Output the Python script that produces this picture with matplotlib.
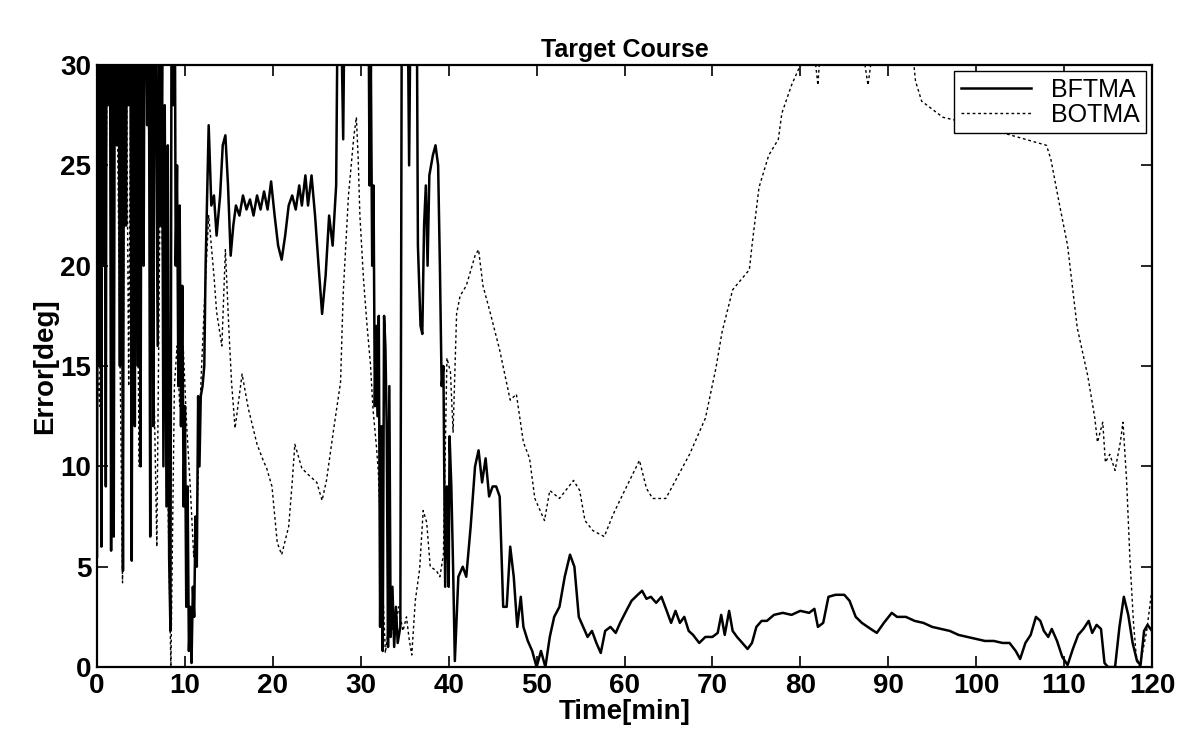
#!/usr/bin/env python3
import matplotlib
matplotlib.use("Agg")
from matplotlib import pyplot as plt

# BFTMA (solid) course error; values above 30 are clipped by the axes
bftma_t = [
    0.0, 0.1, 0.25, 0.35, 0.5, 0.6, 0.75, 0.85, 1.0, 1.1, 1.3, 1.45, 1.6, 1.75,
    1.9, 2.05, 2.25, 2.4, 2.6, 2.75, 2.95, 3.1, 3.3, 3.45, 3.6, 3.75, 3.95, 4.1,
    4.3, 4.45, 4.65, 4.8, 4.95, 5.1, 5.3, 5.45, 5.7, 5.85, 6.05, 6.2, 6.4, 6.55,
    6.75, 6.9, 7.05, 7.25, 7.4, 7.55, 7.7, 7.9, 8.05, 8.2, 8.35, 8.5, 8.65, 8.8,
    8.95, 9.1, 9.25, 9.4, 9.55, 9.7, 9.85, 10.0, 10.15, 10.3, 10.45, 10.6,
    10.75, 10.9, 11.05, 11.2, 11.35, 11.5, 11.65, 11.8, 12.0, 12.2, 12.35,
    12.5, 12.7, 13.0, 13.3, 13.6, 14.0, 14.3, 14.6, 14.9, 15.2, 15.5, 15.8,
    16.2, 16.6, 17.0, 17.4, 17.8, 18.2, 18.6, 19.0, 19.4, 19.8, 20.2, 20.6,
    21.0, 21.4, 21.8, 22.2, 22.6, 23.0, 23.3, 23.7, 24.0, 24.4, 24.8, 25.2,
    25.6, 26.0, 26.4, 26.8, 27.2, 27.5, 28.0, 28.3, 29.0, 30.0, 30.8, 31.0,
    31.15, 31.3, 31.45, 31.6, 31.75, 31.9, 32.05, 32.2, 32.35, 32.5, 32.65,
    32.8, 32.95, 33.1, 33.25, 33.4, 33.6, 33.8, 34.0, 34.2, 34.5, 34.7, 35.2,
    35.5, 35.8, 36.3, 36.5, 36.8, 37.0, 37.2, 37.4, 37.6, 37.8, 38.2, 38.5,
    38.8, 39.0, 39.2, 39.4, 39.6, 39.8, 40.0, 40.1, 40.3, 40.5, 40.7,
    41.1, 41.6, 42.0, 42.5, 43.0, 43.4, 43.8, 44.2, 44.6, 45.0, 45.4, 45.8,
    46.2, 46.6, 47.0, 47.4, 47.8, 48.2, 48.5, 49.0, 49.5, 50.0, 50.5, 51.0,
    51.5, 52.0, 52.6, 53.2, 53.8, 54.3, 54.8, 55.3, 55.8, 56.3, 56.8, 57.3,
    57.8, 58.4, 59.0, 59.5, 60.2, 60.8, 61.5, 62.0, 62.5, 63.0, 63.6, 64.2,
    64.8, 65.3, 65.8, 66.3, 66.8, 67.3, 67.8, 68.5, 69.2, 70.0, 70.6, 71.0,
    71.4, 71.9, 72.3, 72.8, 73.4, 74.0, 74.5, 75.0, 75.6, 76.2, 77.0, 78.0,
    79.0, 80.0, 81.0, 81.6, 82.0, 82.6, 83.2, 84.0, 85.0, 85.6, 86.3, 87.0,
    88.0, 88.7, 89.5, 90.4, 91.0, 92.0, 93.0, 94.0, 95.0, 96.0, 97.0, 98.0,
    99.0, 100.0, 101.0, 102.0, 103.0, 103.8, 104.5, 105.0, 105.6, 106.2, 106.8,
    107.3, 107.7, 108.2, 108.6, 109.2, 109.8, 110.4, 111.0, 111.6, 112.2, 112.8,
    113.2, 113.7, 114.2, 114.6, 115.0, 115.8, 116.3, 116.8, 117.3, 117.8, 118.3,
    118.7, 119.1, 119.5, 120.0,
]
bftma_err = [
    5.5, 40, 15, 40, 6, 40, 20, 40, 9, 40, 28, 40, 5.8, 40,
    6.5, 40, 26, 40, 15, 40, 4.8, 40, 22, 40, 28, 40, 5.3, 40,
    12, 40, 15, 40, 10, 40, 20, 40, 27, 40, 6.5, 40, 12, 40,
    26, 16, 38, 22, 30, 10, 28, 8, 26, 5.5, 1.8, 40, 28, 40,
    20, 25, 14, 23, 12, 19, 8, 13, 3, 9, 0.8, 3,
    0.2, 4, 2.5, 7.5, 5, 13.5, 10, 13.5, 14, 15, 20,
    23, 27, 23, 23.5, 21.5, 23.5, 26, 26.5, 24, 20.5, 22, 23,
    22.5, 23.5, 22.8, 23.3, 22.5, 23.5, 22.8, 23.7, 22.8, 24.2, 22.5, 21,
    20.3, 21.5, 23, 23.5, 22.8, 24, 23, 24.5, 23, 24.5, 22.5, 20,
    17.6, 19.5, 22.5, 21, 24, 40, 26.3, 40, 40, 40, 40, 24,
    30, 20, 24, 13, 17, 12.5, 17.5, 2, 12, 0.8, 17.5,
    16, 12, 1, 14, 1.5, 4, 1, 3, 1.2, 2, 40, 40,
    25, 40, 40, 21, 17, 16.6, 22, 24, 20, 24.5, 25.5, 26,
    25, 20, 14, 15, 4, 9, 4, 11.5, 9, 5, 0.3,
    4.5, 5, 4.5, 7, 10, 10.8, 9.2, 10.4, 8.5, 9, 9, 8.5,
    3, 3, 6, 4.5, 2, 3.5, 2, 1.3, 0.8, 0, 0.8, 0,
    1.5, 2.5, 3, 4.5, 5.6, 5, 2.5, 2, 1.5, 1.8, 1.2, 0.7,
    1.8, 2, 1.7, 2.2, 2.8, 3.3, 3.6, 3.8, 3.4, 3.5, 3.2, 3.5,
    2.8, 2.2, 2.8, 2.2, 2.5, 1.8, 1.6, 1.2, 1.5, 1.5, 1.7, 2.6,
    1.6, 2.8, 1.8, 1.5, 1.2, 0.9, 1.2, 2.0, 2.3, 2.3, 2.6, 2.7,
    2.6, 2.8, 2.7, 2.9, 2.0, 2.2, 3.5, 3.6, 3.6, 3.3, 2.5, 2.2,
    1.9, 1.7, 2.2, 2.7, 2.5, 2.5, 2.3, 2.2, 2.0, 1.9, 1.8, 1.6,
    1.5, 1.4, 1.3, 1.3, 1.2, 1.2, 0.8, 0.4, 1.2, 1.6, 2.5,
    2.3, 1.8, 1.5, 1.9, 1.3, 0.5, 0.1, 0.9, 1.6, 1.9, 2.3,
    1.7, 2.1, 1.9, 0.2, 0, 0, 2.0, 3.5, 2.6, 1.2, 0.3,
    0.1, 1.8, 2.1, 1.8,
]

# BOTMA (dotted) course error
botma_t = [
    0.0, 0.3, 0.6, 1.0, 1.3, 1.6, 2.0, 2.5, 2.9, 3.2, 3.6, 4.0, 4.4, 4.8, 5.2,
    5.7, 6.0, 6.4, 6.8, 7.2, 7.6, 8.0, 8.4, 8.8, 9.1, 9.4, 9.8, 10.2, 10.6,
    11.0, 11.4, 11.8, 12.2, 12.7, 13.3, 13.6, 14.2, 14.6, 15.0, 15.3, 15.7,
    16.5, 17.2, 18.2, 18.9, 19.3, 19.9, 20.5, 21.0, 21.8, 22.2, 22.5, 23.3,
    24.0, 25.0, 25.6, 26.1, 26.9, 27.7, 28.0, 28.6, 29.2, 29.5, 29.7, 29.9,
    30.3, 30.7, 31.1, 31.4, 31.8, 32.0, 32.4, 32.8, 33.3, 33.8, 34.3, 34.8,
    35.2, 35.5, 35.8, 36.2, 36.7, 37.1, 37.5, 37.9, 38.6, 39.0, 39.4, 39.8,
    40.2, 40.5, 40.9, 41.3, 42.0, 43.0, 43.4, 43.9, 44.7, 45.8, 47.0, 47.7,
    48.5, 49.2, 49.8, 50.4, 50.9, 51.5, 52.6, 54.2, 54.9, 55.5, 56.4, 57.7,
    58.7, 59.8, 61.7, 62.5, 63.2, 64.7, 65.8, 67.4, 69.2, 70.4, 71.1, 72.3,
    74.2, 74.5, 75.3, 76.4, 77.5, 77.9, 79.0, 79.8, 81.5, 82.0, 82.3, 84.0,
    87.0, 87.7, 88.3, 88.8, 92.7, 93.1, 93.8, 95.0, 96.2, 100.0, 104.0, 108.0,
    108.5, 109.5, 110.4, 111.5, 112.7, 113.5, 113.8, 114.4, 114.7, 115.2,
    115.8, 116.4, 116.7, 117.1, 117.5, 117.9, 118.2, 118.6, 119.4, 120.0,
]
botma_err = [
    15, 13, 40, 22, 40, 30, 40, 20, 4.2, 40, 14, 40, 28, 10, 40,
    30, 24, 16, 6.0, 25, 18, 10, 0, 14, 16, 13, 16, 12, 9,
    5.5, 8, 14, 18, 22.5, 19.5, 17.7, 16, 20.8, 16.8, 14.2, 11.9,
    14.6, 12.9, 11.1, 10.3, 9.9, 9, 6.2, 5.6, 7, 9.2, 11.1, 9.9,
    9.6, 9.2, 8.3, 9.3, 11.8, 14.2, 18.6, 23.5, 26.4, 27.4, 25.4, 22.5,
    19.4, 17.1, 15.1, 12.8, 10.9, 9.7, 5, 0.7, 2.5, 1.5, 3, 1.8,
    2.5, 1.4, 0.6, 3.3, 4.9, 7.8, 7.2, 5, 4.8, 4.5, 5.6, 15.4,
    14.7, 11.7, 17.6, 18.5, 19, 20.5, 20.8, 19, 17.7, 15.8, 13.3, 13.6,
    11.2, 10.4, 8.4, 7.8, 7.3, 8.8, 8.4, 9.3, 8.8, 7.3, 6.8, 6.5,
    7.6, 8.6, 10.3, 8.9, 8.4, 8.4, 9.3, 10.6, 12.4, 14.9, 16.7, 18.8,
    19.8, 21, 23.9, 25.5, 26.3, 27.6, 29, 29.8, 31, 29, 31, 31,
    31, 29, 31, 31, 31, 29.2, 28.2, 27.8, 27.4, 27.0, 26.5, 26,
    25.3, 23, 21, 16.9, 14.5, 12.4, 11.2, 12.2, 10.2, 10.6,
    9.8, 11.2, 12.2, 9.4, 5.3, 2.2, 0.6, 0, 1.8, 3.9,
]

x_ticks = list(range(0, 121, 10))
y_ticks = list(range(0, 31, 5))

fig = plt.figure(figsize=(11.95, 7.4), dpi=100)
ax = fig.add_axes([0.0812, 0.0986, 0.8828, 0.8135])

ax.plot(bftma_t, bftma_err, color="black", lw=1.8, label="BFTMA")
ax.plot(botma_t, botma_err, color="black", lw=1.0, linestyle=(0, (2, 2)),
        label="BOTMA")

ax.set_xlim(0, 120)
ax.set_ylim(0, 30)
ax.set_xticks(x_ticks)
ax.set_yticks(y_ticks)
ax.tick_params(direction="in", length=8, width=1.2, top=True, right=True,
               labelsize=20, pad=4)
for lbl in ax.get_xticklabels() + ax.get_yticklabels():
    lbl.set_family("Liberation Sans")
    lbl.set_fontweight("bold")
for s in ax.spines.values():
    s.set_linewidth(1.6)

ax.set_xlabel("Time[min]", family="Liberation Sans", fontweight="bold",
              fontsize=20, labelpad=0)
ax.set_ylabel("Error[deg]", family="Liberation Sans", fontweight="bold",
              fontsize=20, labelpad=2)
ax.set_title("Target Course", family="Liberation Sans", fontweight="bold",
             fontsize=18, pad=6)

leg = ax.legend(loc="upper right", frameon=True, fancybox=False,
                framealpha=1, edgecolor="black", handlelength=2.8,
                borderpad=0.25, labelspacing=0.05, borderaxespad=0.25,
                prop={"family": "Liberation Sans", "size": 18})
leg.get_frame().set_linewidth(1.0)

fig.savefig("out.png", dpi=100)
